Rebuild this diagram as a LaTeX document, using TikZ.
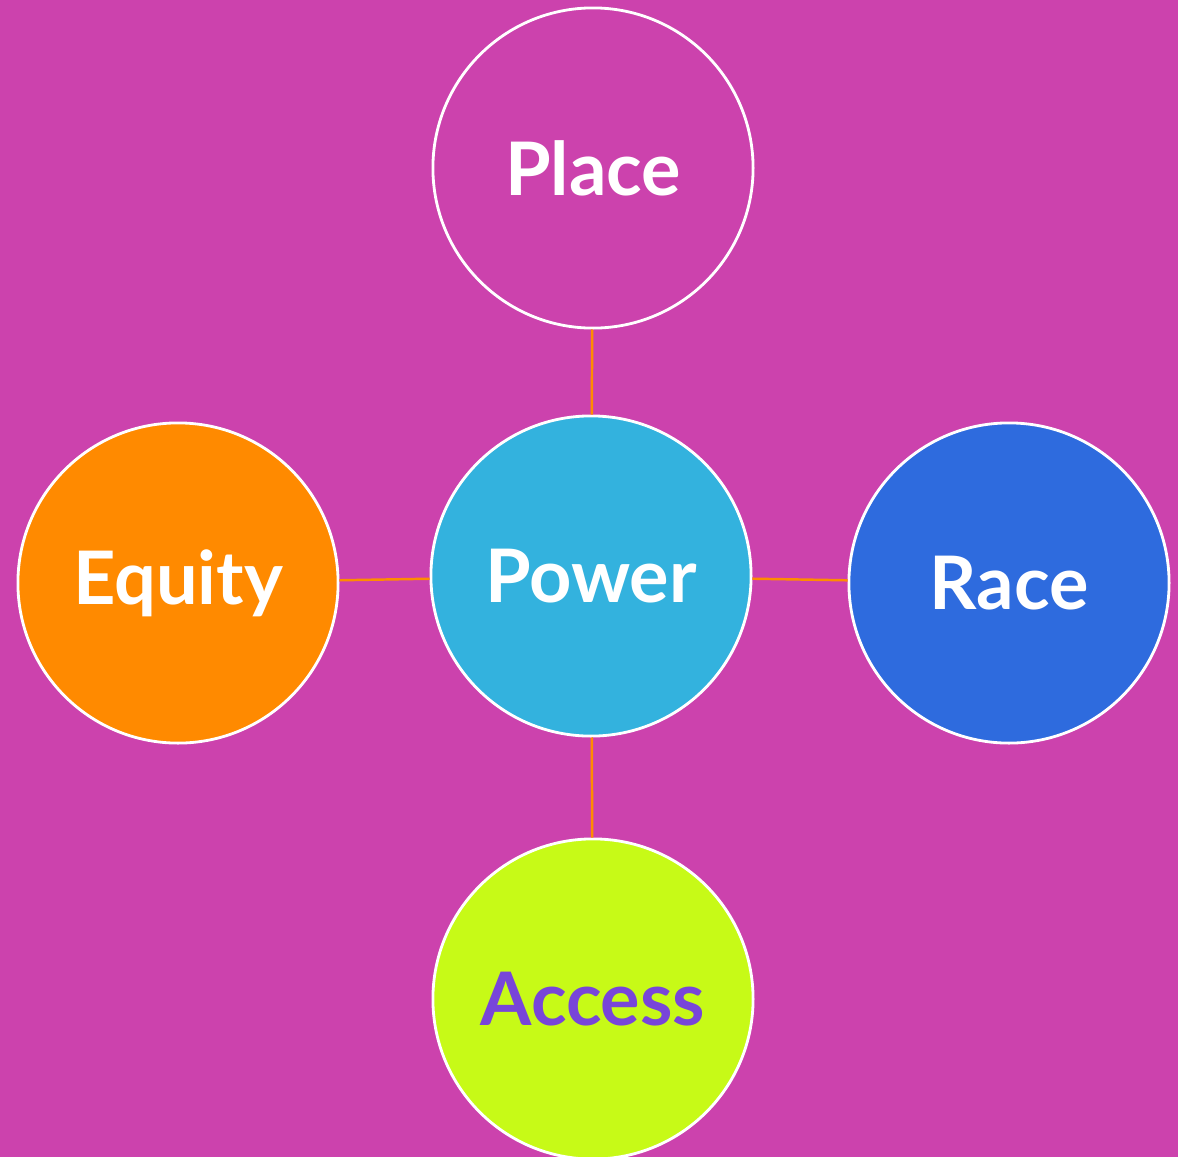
\documentclass[tikz,border=0pt]{standalone}
\usepackage{fontspec}
\setmainfont{Lato}
\definecolor{BgClr}{rgb}{0.80,0.26,0.68}
\definecolor{PowerClr}{rgb}{0.20,0.70,0.87}
\definecolor{EquityClr}{rgb}{1,0.54,0}
\definecolor{RaceClr}{rgb}{0.18,0.42,0.87}
\definecolor{AccessClr}{rgb}{0.78,0.98,0.09}
\definecolor{AccessTxtClr}{rgb}{0.47,0.27,0.85}
\definecolor{LinkClr}{rgb}{1,0.55,0}

\begin{document}
\begin{tikzpicture}[x=0.01cm,y=-0.01cm,
  bubble/.style={circle,draw=white,line width=0.8pt,minimum size=3.2cm,inner sep=0pt,
    text=white,font=\fontsize{21}{25}\selectfont\bfseries},
  link/.style={LinkClr,line width=0.7pt}]

\fill[BgClr] (0,0) rectangle (1178,1157);
\useasboundingbox (0,0) rectangle (1178,1157);

\node[bubble] (place) at (593,168) {Place};
\node[bubble,fill=PowerClr] (power) at (591,576) {Power};
\node[bubble,fill=EquityClr] (equity) at (178,583) {Equity};
\node[bubble,fill=RaceClr] (race) at (1009,583) {Race};
\node[bubble,fill=AccessClr,text=AccessTxtClr] (access) at (593,999) {Access};

\draw[link] (place) -- (power);
\draw[link] (equity) -- (power);
\draw[link] (power) -- (race);
\draw[link] (power) -- (access);

\end{tikzpicture}
\end{document}
